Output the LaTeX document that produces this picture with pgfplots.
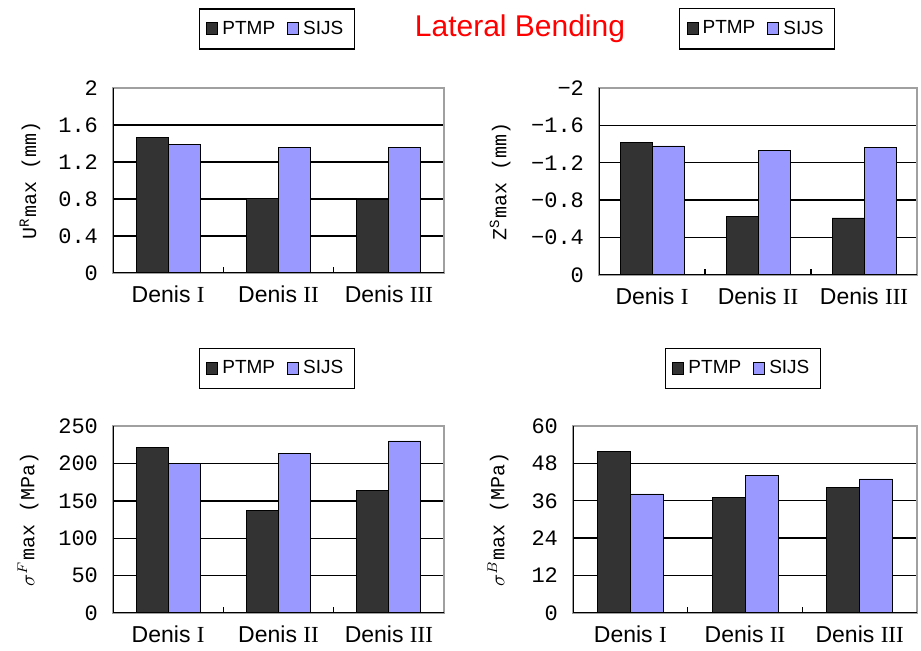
\documentclass[border=0pt]{standalone}
\usepackage{fontspec}
\setmainfont{Liberation Sans}
\setmonofont{Liberation Mono}
\newfontfamily\romanfont{Liberation Serif}
\usepackage{pgfplots}
\pgfplotsset{compat=1.18}

\definecolor{ptmp}{HTML}{333333}
\definecolor{sijs}{HTML}{9999FF}
\definecolor{boxgray}{HTML}{A0A0A0}

\newcommand{\frameblack}{%
  \draw[black, line width=0.8pt] (axis description cs:0,1) -- (axis description cs:0,0) -- (axis description cs:1,0);}

\pgfplotsset{
  panel/.style={
    scale only axis,
    anchor=south west,
    ybar=0pt,
    bar width=16pt,
    xmin=-0.5, xmax=2.5,
    xtick={0,1,2},
    xticklabels={Denis~{\romanfont I},Denis~{\romanfont II},Denis~{\romanfont III}},
    xticklabel style={font=\fontsize{11.5}{13}\selectfont, yshift=-3pt},
    extra x ticks={0.5,1.5},
    extra x tick labels={},
    extra x tick style={major tick length=3pt, grid=none},
    tick align=inside,
    tick pos=left,
    major tick length=0pt,
    tick style={black, line width=0.6pt},
    ymajorgrids,
    grid style={black, line width=0.7pt},
    extra y tick style={grid=none},
    yticklabel style={font=\fontsize{11}{12}\ttfamily, xshift=-4pt},
    ylabel style={font=\fontsize{10}{12}\ttfamily, anchor=center},
    axis line style={draw=boxgray, line width=0.8pt},
    legend columns=2,
    legend style={anchor=center, draw=black, line width=0.7pt,
      font=\fontsize{9.5}{11}\selectfont, inner xsep=3.5pt, inner ysep=4pt,
      /tikz/every even column/.append style={column sep=4pt}},
    legend image code/.code={\draw[##1, draw=black, line width=0.5pt] (0pt,-3pt) rectangle (5.5pt,3pt);},
  }
}

\begin{document}
\begin{tikzpicture}
\useasboundingbox (0,0) rectangle (460.5pt,-325.5pt);
\node[text=red, font=\fontsize{15}{18}\selectfont, anchor=base] at (260pt,-18.5pt) {Lateral Bending};

% top left
\begin{axis}[panel, at={(56.5pt,-136.5pt)}, width=165.5pt, height=92.5pt,
  ymin=0, ymax=2,
  ytick={0,0.4,0.8,1.2,1.6}, yticklabels={0,0.4,0.8,1.2,1.6},
  extra y ticks={2}, extra y tick labels={2},
  ylabel={U\textsuperscript{R}max (mm)},
  ylabel style={at={(axis description cs:-0.251,0.5)}},
  legend style={at={(0.495,1.319)}}]
\addplot[fill=ptmp, draw=black] coordinates {(0,1.47) (1,0.81) (2,0.80)};
\addplot[fill=sijs, draw=black] coordinates {(0,1.39) (1,1.36) (2,1.36)};
\legend{PTMP,SIJS}
\frameblack
\end{axis}

% top right
\begin{axis}[panel, at={(299.5pt,-137.5pt)}, width=159pt, height=93.5pt,
  ymin=-2, ymax=0, y dir=reverse,
  ytick={-1.6,-1.2,-0.8,-0.4,0}, yticklabels={−1.6,−1.2,−0.8,−0.4,0},
  extra y ticks={-2}, extra y tick labels={−2},
  ylabel={Z\textsuperscript{S}max (mm)},
  ylabel style={at={(axis description cs:-0.311,0.5)}},
  legend style={at={(0.497,1.316)}}]
\addplot[fill=ptmp, draw=black] coordinates {(0,-1.42) (1,-0.625) (2,-0.61)};
\addplot[fill=sijs, draw=black] coordinates {(0,-1.38) (1,-1.33) (2,-1.36)};
\legend{PTMP,SIJS}
\frameblack
\end{axis}

% bottom left
\begin{axis}[panel, at={(56.5pt,-306.5pt)}, width=165.5pt, height=93.5pt,
  ymin=0, ymax=250,
  ytick={0,50,100,150,200}, yticklabels={0,50,100,150,200},
  extra y ticks={250}, extra y tick labels={250},
  ylabel={$\sigma^{F}$max (MPa)},
  ylabel style={at={(axis description cs:-0.257,0.5)}},
  legend style={at={(0.495,1.307)}}]
\addplot[fill=ptmp, draw=black] coordinates {(0,221) (1,137) (2,164)};
\addplot[fill=sijs, draw=black] coordinates {(0,200) (1,213.5) (2,230)};
\legend{PTMP,SIJS}
\frameblack
\end{axis}

% bottom right
\begin{axis}[panel, at={(286.5pt,-306.5pt)}, width=172pt, height=93.5pt,
  bar width=16.5pt,
  ymin=0, ymax=60,
  ytick={0,12,24,36,48}, yticklabels={0,12,24,36,48},
  extra y ticks={60}, extra y tick labels={60},
  ylabel={$\sigma^{B}$max (MPa)},
  ylabel style={at={(axis description cs:-0.218,0.5)}},
  legend style={at={(0.494,1.307)}}]
\addplot[fill=ptmp, draw=black] coordinates {(0,51.8) (1,37.0) (2,40.4)};
\addplot[fill=sijs, draw=black] coordinates {(0,38.2) (1,44.2) (2,43.0)};
\legend{PTMP,SIJS}
\frameblack
\end{axis}
\end{tikzpicture}
\end{document}
